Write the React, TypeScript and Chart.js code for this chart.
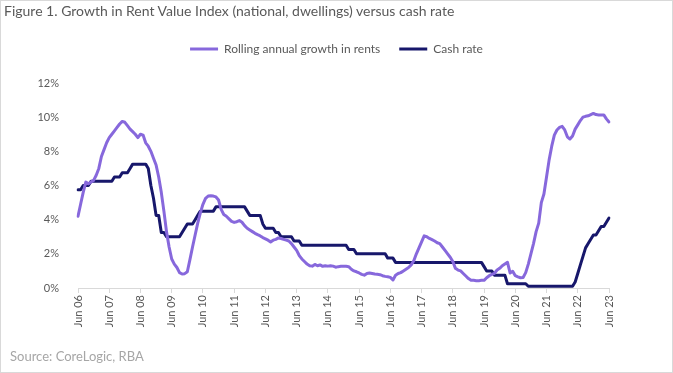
import React, { useEffect, useRef } from 'react';
import { Chart, registerables } from 'chart.js';

Chart.register(...registerables);

const TITLE = 'Figure 1. Growth in Rent Value Index (national, dwellings) versus cash rate';
const SOURCE = 'Source: CoreLogic, RBA';
const SERIES_NAMES = ['Rolling annual growth in rents', 'Cash rate'];
const MONTH_NAMES = ['Jan', 'Feb', 'Mar', 'Apr', 'May', 'Jun', 'Jul', 'Aug', 'Sep', 'Oct', 'Nov', 'Dec'];
const START_YEAR = 2006;
const START_MONTH = 5; // June
const Y_TICKS = [0, 2, 4, 6, 8, 10, 12];

// Rolling annual growth in rents (%), monthly Jun 2006 - Jun 2023
const rentGrowth = [
  // 2006 Jun-Dec
  4.2, 4.9, 5.6, 6.2, 6.1, 6.2, 6.3,
  // 2007
  6.6, 7.0, 7.7, 8.1, 8.5, 8.8, 9.0, 9.2, 9.4, 9.6, 9.75, 9.7,
  // 2008
  9.5, 9.3, 9.15, 9.0, 8.8, 9.0, 8.95, 8.5, 8.3, 8.0, 7.6, 7.2,
  // 2009
  6.5, 5.6, 4.5, 3.3, 2.4, 1.7, 1.4, 1.2, 0.9, 0.82, 0.84, 0.95,
  // 2010
  1.66, 2.4, 3.1, 3.8, 4.4, 4.9, 5.25, 5.38, 5.4, 5.38, 5.33, 5.15,
  // 2011
  4.6, 4.3, 4.2, 4.05, 3.9, 3.84, 3.88, 3.95, 3.85, 3.65, 3.5, 3.4,
  // 2012
  3.3, 3.2, 3.12, 3.05, 2.95, 2.88, 2.8, 2.7, 2.8, 2.85, 2.93, 2.9,
  // 2013
  2.85, 2.8, 2.75, 2.6, 2.4, 2.2, 1.9, 1.7, 1.55, 1.4, 1.3, 1.28,
  // 2014
  1.38, 1.3, 1.35, 1.27, 1.3, 1.28, 1.3, 1.28, 1.22, 1.25, 1.27, 1.27,
  // 2015
  1.27, 1.25, 1.1, 1.0, 0.95, 0.88, 0.8, 0.75, 0.85, 0.88, 0.85, 0.82,
  // 2016
  0.8, 0.78, 0.72, 0.68, 0.66, 0.62, 0.47, 0.75, 0.85, 0.9, 1.0, 1.1,
  // 2017
  1.2, 1.35, 1.6, 2.0, 2.35, 2.7, 3.05, 3.0, 2.9, 2.83, 2.75, 2.65,
  // 2018
  2.6, 2.4, 2.2, 2.0, 1.8, 1.55, 1.15, 1.05, 1.0, 0.85, 0.7, 0.55,
  // 2019
  0.45, 0.45, 0.43, 0.43, 0.45, 0.45, 0.6, 0.72, 0.8, 0.86, 1.05, 1.15,
  // 2020
  1.3, 1.4, 1.5, 0.88, 0.98, 0.72, 0.65, 0.6, 0.62, 0.9, 1.4, 2.0,
  // 2021
  2.6, 3.3, 3.8, 5.0, 5.5, 6.5, 7.5, 8.3, 8.95, 9.25, 9.4, 9.46,
  // 2022
  9.25, 8.85, 8.72, 8.9, 9.3, 9.55, 9.8, 10.0, 10.05, 10.08, 10.15, 10.22,
  // 2023 Jan-Jun
  10.15, 10.13, 10.13, 10.13, 9.9, 9.72,
];

// RBA cash rate target (%), monthly Jun 2006 - Jun 2023
const cashRate = [
  // 2006 Jun-Dec
  5.75, 5.75, 6.0, 6.0, 6.0, 6.25, 6.25,
  // 2007
  6.25, 6.25, 6.25, 6.25, 6.25, 6.25, 6.25, 6.5, 6.5, 6.5, 6.75, 6.75,
  // 2008
  6.75, 7.0, 7.25, 7.25, 7.25, 7.25, 7.25, 7.25, 7.0, 6.0, 5.25, 4.25,
  // 2009
  4.25, 3.25, 3.25, 3.0, 3.0, 3.0, 3.0, 3.0, 3.0, 3.25, 3.5, 3.75,
  // 2010
  3.75, 3.75, 4.0, 4.25, 4.5, 4.5, 4.5, 4.5, 4.5, 4.5, 4.75, 4.75,
  // 2011
  4.75, 4.75, 4.75, 4.75, 4.75, 4.75, 4.75, 4.75, 4.75, 4.75, 4.5, 4.25,
  // 2012
  4.25, 4.25, 4.25, 4.25, 3.75, 3.5, 3.5, 3.5, 3.5, 3.25, 3.25, 3.0,
  // 2013
  3.0, 3.0, 3.0, 3.0, 2.75, 2.75, 2.75, 2.5, 2.5, 2.5, 2.5, 2.5,
  // 2014
  2.5, 2.5, 2.5, 2.5, 2.5, 2.5, 2.5, 2.5, 2.5, 2.5, 2.5, 2.5,
  // 2015
  2.5, 2.25, 2.25, 2.25, 2.0, 2.0, 2.0, 2.0, 2.0, 2.0, 2.0, 2.0,
  // 2016
  2.0, 2.0, 2.0, 2.0, 1.75, 1.75, 1.75, 1.5, 1.5, 1.5, 1.5, 1.5,
  // 2017
  1.5, 1.5, 1.5, 1.5, 1.5, 1.5, 1.5, 1.5, 1.5, 1.5, 1.5, 1.5,
  // 2018
  1.5, 1.5, 1.5, 1.5, 1.5, 1.5, 1.5, 1.5, 1.5, 1.5, 1.5, 1.5,
  // 2019
  1.5, 1.5, 1.5, 1.5, 1.5, 1.25, 1.0, 1.0, 1.0, 0.75, 0.75, 0.75,
  // 2020
  0.75, 0.75, 0.25, 0.25, 0.25, 0.25, 0.25, 0.25, 0.25, 0.25, 0.1, 0.1,
  // 2021
  0.1, 0.1, 0.1, 0.1, 0.1, 0.1, 0.1, 0.1, 0.1, 0.1, 0.1, 0.1,
  // 2022
  0.1, 0.1, 0.1, 0.1, 0.35, 0.85, 1.35, 1.85, 2.35, 2.6, 2.85, 3.1,
  // 2023 Jan-Jun
  3.1, 3.35, 3.6, 3.6, 3.85, 4.1,
];

// Category labels: one per month, "Mon YY"
const categories = rentGrowth.map((_, i) => {
  const mi = START_MONTH + i;
  const yr = START_YEAR + Math.floor(mi / 12);
  return `${MONTH_NAMES[mi % 12]} ${String(yr % 100).padStart(2, '0')}`;
});

const FONT = 'Lato, "Noto Sans", sans-serif';
const TEXT = '#595959';
const AXIS = '#d9d9d9';
const PURPLE = '#8768dc';
const NAVY = '#17176b';

const legendGap = {
  id: 'legendGap',
  beforeInit(chart: any) {
    const legend = chart.legend;
    if (!legend) return;
    const origFit = legend.fit;
    legend.fit = function () {
      origFit.call(this);
      this.height += 18;
    };
  },
};

export default function App() {
  const ref = useRef<HTMLCanvasElement | null>(null);

  useEffect(() => {
    document.body.style.margin = '0';
    const canvas = ref.current;
    if (!canvas) return;
    const chart = new Chart(canvas, {
      type: 'line',
      data: {
        labels: categories,
        datasets: [
          {
            label: SERIES_NAMES[0],
            data: rentGrowth,
            borderColor: PURPLE,
            backgroundColor: PURPLE,
            borderWidth: 3,
            pointRadius: 0,
            tension: 0,
            borderJoinStyle: 'round',
            borderCapStyle: 'round',
            yAxisID: 'y',
          },
          {
            label: SERIES_NAMES[1],
            data: cashRate,
            borderColor: NAVY,
            backgroundColor: NAVY,
            borderWidth: 3,
            pointRadius: 0,
            tension: 0,
            borderJoinStyle: 'round',
            borderCapStyle: 'round',
            yAxisID: 'y',
          },
        ],
      },
      options: {
        animation: false,
        responsive: false,
        maintainAspectRatio: false,
        events: [],
        layout: { padding: { top: 24, bottom: 45, left: 0, right: 0 } },
        plugins: {
          legend: {
            position: 'top',
            labels: {
              boxWidth: 28,
              boxHeight: 3,
              padding: 19,
              color: TEXT,
              font: { family: FONT, size: 12 },
              generateLabels: (c: any) =>
                (Chart.defaults.plugins.legend.labels.generateLabels as any)(c).map((l: any) => ({
                  ...l,
                  lineWidth: 0,
                  fillStyle: l.strokeStyle,
                })),
            },
          },
          tooltip: { enabled: false },
          title: { display: false },
        },
        scales: {
          x: {
            type: 'category',
            offset: false,
            grid: {
              display: true,
              drawOnChartArea: false,
              drawTicks: true,
              tickLength: 5,
              color: (ctx: any) => (ctx.index % 12 === 0 ? AXIS : 'rgba(0,0,0,0)'),
            },
            border: { display: true, color: AXIS, width: 1 },
            ticks: {
              autoSkip: false,
              maxRotation: 90,
              minRotation: 90,
              padding: 2,
              color: TEXT,
              font: { family: FONT, size: 11 },
              callback: (_v: any, i: number) => (i % 12 === 0 ? categories[i] : ''),
            },
            afterFit: (s: any) => {
              s.height = 40;
            },
          },
          y: {
            position: 'left',
            min: 0,
            max: 12,
            afterBuildTicks: (s: any) => {
              s.ticks = Y_TICKS.map((v) => ({ value: v }));
            },
            grid: { display: false },
            border: { display: false },
            ticks: {
              padding: 11,
              color: TEXT,
              font: { family: FONT, size: 11 },
              callback: (v: any) => `${v}%`,
            },
            afterFit: (s: any) => {
              s.width = 78;
            },
          },
          yR: {
            position: 'right',
            display: true,
            grid: { display: false },
            border: { display: false },
            ticks: { display: false },
            afterFit: (s: any) => {
              s.width = 64;
            },
          },
        },
      },
      plugins: [legendGap],
    } as any);
    return () => chart.destroy();
  }, []);

  return (
    <div style={{ position: 'relative', width: 673, height: 373, background: '#fff', fontFamily: FONT, overflow: 'hidden' }}>
      <canvas ref={ref} width={673} height={373} style={{ position: 'absolute', left: 0, top: 0, width: 673, height: 373 }} />
      <div style={{ position: 'absolute', left: 4, top: 3, fontSize: 14, lineHeight: 1.2, color: TEXT, whiteSpace: 'nowrap' }}>{TITLE}</div>
      <div style={{ position: 'absolute', left: 10, top: 349, fontSize: 13, lineHeight: 1.2, color: '#a6a6a6', whiteSpace: 'nowrap' }}>{SOURCE}</div>
      <div style={{ position: 'absolute', left: 0, top: 0, width: 673, height: 373, boxSizing: 'border-box', border: '1px solid #d9d9d9', pointerEvents: 'none' }} />
    </div>
  );
}
